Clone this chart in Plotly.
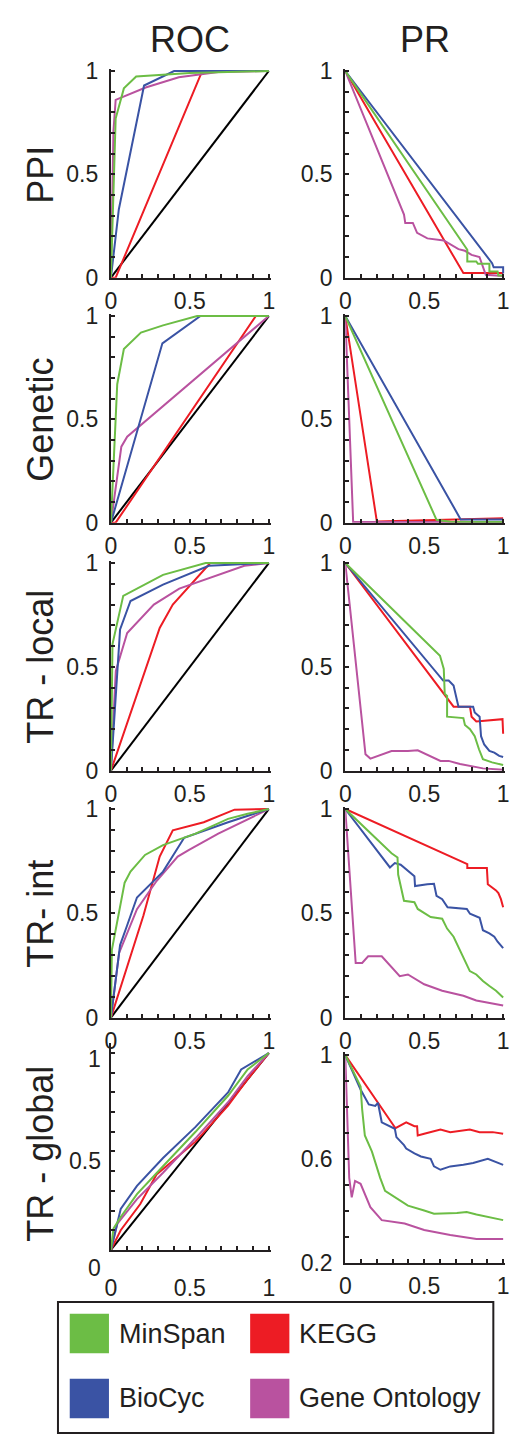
import plotly.graph_objects as go

W, H = 514, 1441
FONT = "Liberation Sans, Arial, Helvetica, sans-serif"
INK = "#231f20"

METHODS = ["KEGG", "Gene Ontology", "BioCyc", "MinSpan"]
COLORS = {"MinSpan": "#6cbd45", "BioCyc": "#3a53a4", "KEGG": "#ed1c24", "Gene Ontology": "#b9529f"}
ROW_LABELS = ["PPI", "Genetic", "TR - local", "TR- int", "TR - global"]
COL_TITLES = ["ROC", "PR"]

# ---------------- ROC curves (FPR, TPR) ----------------
roc_ppi = {
    "MinSpan": ([0, 0.03, 0.082, 0.16, 0.5, 1], [0, 0.77, 0.916, 0.973, 0.99, 1]),
    "BioCyc": ([0, 0.05, 0.21, 0.40, 1], [0, 0.33, 0.93, 1.0, 1]),
    "KEGG": ([0, 0.03, 0.57, 0.6, 1], [0, 0.0, 0.985, 1.0, 1]),
    "Gene Ontology": ([0, 0.016, 0.03, 0.22, 0.43, 0.68, 1], [0, 0.71, 0.86, 0.92, 0.97, 0.995, 1]),
}
roc_genetic = {
    "MinSpan": ([0, 0.04, 0.082, 0.19, 0.33, 0.546, 1], [0, 0.67, 0.84, 0.92, 0.955, 1, 1]),
    "BioCyc": ([0, 0.326, 0.567, 1], [0, 0.868, 1, 1]),
    "KEGG": ([0, 0.03, 0.918, 1], [0, 0.0, 1, 1]),
    "Gene Ontology": ([0, 0.066, 0.103, 1], [0, 0.368, 0.416, 1]),
}
roc_trlocal = {
    "MinSpan": ([0, 0.01, 0.078, 0.33, 0.6, 1], [0, 0.61, 0.842, 0.943, 1, 1]),
    "BioCyc": ([0, 0.058, 0.124, 0.33, 0.62, 1], [0, 0.68, 0.817, 0.896, 0.987, 1]),
    "KEGG": ([0, 0.309, 0.392, 0.629, 1], [0, 0.687, 0.80, 1, 1]),
    "Gene Ontology": ([0, 0.031, 0.103, 0.272, 0.433, 0.845, 1], [0, 0.48, 0.663, 0.80, 0.877, 0.987, 1]),
}
roc_trint = {
    "MinSpan": ([0, 0.006, 0.087, 0.124, 0.216, 0.33, 0.536, 0.742, 0.866, 1],
                [0, 0.325, 0.647, 0.70, 0.78, 0.827, 0.882, 0.953, 0.977, 1]),
    "BioCyc": ([0, 0.058, 0.103, 0.165, 0.33, 0.464, 0.742, 1], [0, 0.348, 0.443, 0.576, 0.70, 0.862, 0.937, 1]),
    "KEGG": ([0, 0.206, 0.309, 0.392, 0.588, 0.783, 1], [0, 0.49, 0.772, 0.898, 0.937, 0.997, 1]),
    "Gene Ontology": ([0, 0.052, 0.165, 0.289, 0.423, 0.495, 0.68, 1], [0, 0.31, 0.52, 0.655, 0.772, 0.804, 0.882, 1]),
}
roc_trglobal = {
    "MinSpan": ([0, 0.016, 0.062, 0.165, 0.33, 0.536, 0.742, 0.866, 1], [0, 0.108, 0.167, 0.283, 0.425, 0.60, 0.783, 0.917, 1]),
    "BioCyc": ([0, 0.02, 0.062, 0.165, 0.33, 0.536, 0.742, 0.825, 1], [0, 0.067, 0.208, 0.325, 0.467, 0.625, 0.80, 0.917, 1]),
    "KEGG": ([0, 0.062, 0.186, 0.289, 0.536, 0.742, 0.866, 1], [0, 0.1, 0.233, 0.383, 0.55, 0.733, 0.867, 1]),
    "Gene Ontology": ([0, 0.041, 0.165, 0.33, 0.536, 0.742, 0.866, 1], [0, 0.133, 0.258, 0.392, 0.567, 0.75, 0.883, 1]),
}

# ---------------- PR curves (recall, precision) ----------------
pr_ppi = {
    "MinSpan": ([0, 0.773, 0.773, 0.83, 0.84, 0.913, 0.913, 0.965, 0.97, 1],
                [1, 0.135, 0.078, 0.078, 0.067, 0.067, 0.03, 0.03, 0.01, 0.01]),
    "BioCyc": ([0, 0.93, 0.94, 1.0, 1.0], [1, 0.07, 0.05, 0.05, 0.02]),
    "KEGG": ([0, 0.748, 1.0], [1, 0.022, 0.022]),
    "Gene Ontology": ([0, 0.372, 0.38, 0.428, 0.455, 0.52, 0.624, 0.665, 0.717, 0.758, 0.8, 0.85, 0.87, 0.89, 1],
                      [1, 0.305, 0.265, 0.265, 0.217, 0.19, 0.18, 0.16, 0.138, 0.13, 0.11, 0.1, 0.06, 0.014, 0.008]),
}
pr_genetic = {
    "MinSpan": ([0, 0.578, 0.665, 1], [1, 0.014, 0.004, 0.003]),
    "BioCyc": ([0, 0.731, 1], [1, 0.016, 0.016]),
    "KEGG": ([0, 0.2, 1], [1, 0.006, 0.022]),
    "Gene Ontology": ([0, 0.05, 1], [1, 0.003, 0.003]),
}
pr_trlocal = {
    "MinSpan": ([0, 0.6, 0.624, 0.63, 0.645, 0.645, 0.748, 0.758, 0.79, 0.82, 0.847, 0.872, 0.93, 1],
                [1, 0.553, 0.49, 0.37, 0.36, 0.26, 0.253, 0.22, 0.2, 0.166, 0.103, 0.055, 0.04, 0.027]),
    "BioCyc": ([0, 0.62, 0.655, 0.686, 0.717, 0.81, 0.82, 0.851, 0.86, 0.88, 0.913, 0.944, 0.975, 1],
               [1, 0.434, 0.434, 0.41, 0.308, 0.308, 0.28, 0.26, 0.166, 0.126, 0.095, 0.087, 0.071, 0.066]),
    "KEGG": ([0, 0.686, 0.79, 0.8, 0.83, 0.996, 1.0], [1, 0.308, 0.308, 0.26, 0.237, 0.248, 0.178]),
    "Gene Ontology": ([0, 0.128, 0.159, 0.293, 0.397, 0.459, 0.603, 0.655, 0.727, 0.872, 1],
                      [1, 0.079, 0.058, 0.095, 0.095, 0.098, 0.047, 0.047, 0.032, 0.011, 0.005]),
}
pr_trint = {
    "MinSpan": ([0, 0.293, 0.331, 0.335, 0.372, 0.438, 0.459, 0.52, 0.541, 0.614, 0.645, 0.686, 0.727, 0.758, 0.789, 0.83, 0.872, 0.913, 0.955, 1],
                [1, 0.788, 0.768, 0.686, 0.56, 0.553, 0.521, 0.49, 0.482, 0.474, 0.427, 0.388, 0.325, 0.278, 0.223, 0.207, 0.176, 0.152, 0.129, 0.097]),
    "BioCyc": ([0, 0.283, 0.314, 0.351, 0.438, 0.442, 0.52, 0.562, 0.578, 0.614, 0.648, 0.77, 0.79, 0.851, 0.872, 0.913, 0.944, 0.965, 1],
               [1, 0.72, 0.741, 0.733, 0.678, 0.631, 0.639, 0.642, 0.584, 0.568, 0.529, 0.521, 0.498, 0.479, 0.419, 0.404, 0.388, 0.364, 0.333]),
    "KEGG": ([0, 0.773, 0.773, 0.897, 0.903, 0.934, 0.955, 0.97, 0.986, 1],
             [1, 0.736, 0.717, 0.717, 0.639, 0.623, 0.61, 0.597, 0.568, 0.529]),
    "Gene Ontology": ([0, 0.066, 0.107, 0.145, 0.231, 0.345, 0.397, 0.5, 0.614, 0.748, 0.83, 1],
                      [1, 0.262, 0.262, 0.294, 0.294, 0.199, 0.207, 0.16, 0.129, 0.105, 0.082, 0.058]),
}
pr_trglobal = {
    "MinSpan": ([0, 0.097, 0.107, 0.124, 0.169, 0.221, 0.252, 0.314, 0.397, 0.5, 0.562, 0.707, 0.769, 0.831, 1],
                [1, 0.879, 0.791, 0.69, 0.628, 0.527, 0.477, 0.452, 0.42, 0.401, 0.389, 0.391, 0.395, 0.386, 0.364]),
    "BioCyc": ([0, 0.097, 0.149, 0.19, 0.207, 0.231, 0.314, 0.324, 0.372, 0.386, 0.438, 0.479, 0.541, 0.562, 0.603, 0.665, 0.748, 0.81, 0.903, 1],
               [1, 0.867, 0.81, 0.804, 0.816, 0.741, 0.716, 0.684, 0.653, 0.64, 0.621, 0.609, 0.6, 0.571, 0.558, 0.571, 0.577, 0.584, 0.6, 0.577]),
    "KEGG": ([0, 0.318, 0.386, 0.407, 0.438, 0.455, 0.459, 0.5, 0.603, 0.665, 0.789, 0.851, 0.934, 1],
             [1, 0.718, 0.741, 0.735, 0.726, 0.726, 0.69, 0.697, 0.713, 0.703, 0.713, 0.703, 0.703, 0.697]),
    "Gene Ontology": ([0, 0.025, 0.041, 0.062, 0.097, 0.159, 0.231, 0.376, 0.5, 0.665, 0.831, 1],
                      [1, 0.527, 0.452, 0.515, 0.504, 0.414, 0.364, 0.351, 0.326, 0.307, 0.291, 0.291]),
}

ROC_PANELS = [roc_ppi, roc_genetic, roc_trlocal, roc_trint, roc_trglobal]
PR_PANELS = [pr_ppi, pr_genetic, pr_trlocal, pr_trint, pr_trglobal]

# ---------------- layout geometry (pixels) ----------------
ROC_X = (107, 268)   # px of value 0 and value 1
PR_X = (346, 507)
ROW_Y = [(272, 62), (521, 311), (773, 562), (1024, 812), (1260, 1060)]  # px of value 0 and value 1
PR5_Y = (1273, 1062)  # px of value 0.2 and value 1.0


def px(x):
    return x / W


def py(y):
    return 1 - y / H


fig = go.Figure()

ticks01 = [round(i * 0.1, 1) for i in range(11)]
text01 = ["0" if v == 0 else "0.5" if v == 0.5 else "1" if v == 1 else "" for v in ticks01]
ticks_pr5 = [round(0.2 + i * 0.1, 1) for i in range(9)]
text_pr5 = ["0.2" if v == 0.2 else "0.6" if v == 0.6 else "1" if v == 1.0 else "" for v in ticks_pr5]


def axis_style(**kw):
    d = dict(showline=True, linecolor=INK, linewidth=2, ticks="inside", ticklen=4, tickwidth=1.5,
             tickcolor=INK, showgrid=False, zeroline=False, fixedrange=True,
             tickfont=dict(family=FONT, size=23, color=INK))
    d.update(kw)
    return d


layout_axes = {}
ax_index = 0
for r in range(5):
    for c in range(2):
        ax_index += 1
        xa = "x" if ax_index == 1 else f"x{ax_index}"
        ya = "y" if ax_index == 1 else f"y{ax_index}"
        xname = "xaxis" if ax_index == 1 else f"xaxis{ax_index}"
        yname = "yaxis" if ax_index == 1 else f"yaxis{ax_index}"
        xp = ROC_X if c == 0 else PR_X
        xr = [0, 1.012]
        xdom = [px(xp[0]), px(xp[0] + xr[1] * (xp[1] - xp[0]))]
        x_standoff = 2
        if c == 1 and r == 4:
            y0, y1 = PR5_Y
            lo = 0.2
            yr = [0.2, 1.012]
            ydom = [py(y0), py(y0 - (yr[1] - lo) / 0.8 * (y0 - y1))]
            ytv, ytt = ticks_pr5, text_pr5
        else:
            y0, y1 = ROW_Y[r]
            top = 1.05 if r == 4 else 1.012
            yr = [0, top]
            ydom = [py(y0), py(y0 - top * (y0 - y1))]
            ytv, ytt = ticks01, text01
        if c == 0 and r == 4:
            ytt = [""] * len(ytv)
            x_standoff = 17
        layout_axes[xname] = axis_style(domain=xdom, range=xr, anchor=ya, tickvals=ticks01, ticktext=text01,
                                        ticklabelstandoff=x_standoff)
        layout_axes[yname] = axis_style(domain=ydom, range=yr, anchor=xa, tickvals=ytv, ticktext=ytt,
                                        ticklabelstandoff=6)
        panel = ROC_PANELS[r] if c == 0 else PR_PANELS[r]
        if c == 0:
            fig.add_trace(go.Scatter(x=[0, 1], y=[0, 1], mode="lines", xaxis=xa, yaxis=ya,
                                     line=dict(color="#000000", width=2), showlegend=False, hoverinfo="skip"))
        for m in METHODS:
            xs, ys = panel[m]
            fig.add_trace(go.Scatter(x=xs, y=ys, mode="lines", xaxis=xa, yaxis=ya, name=m,
                                     line=dict(color=COLORS[m], width=2), showlegend=False))

annotations = []
# column titles
annotations.append(dict(text="ROC", x=px(188), y=py(30), xref="paper", yref="paper", showarrow=False,
                        xanchor="center", yanchor="middle", font=dict(family=FONT, size=36, color=INK)))
annotations.append(dict(text="PR", x=px(427), y=py(30), xref="paper", yref="paper", showarrow=False,
                        xanchor="center", yanchor="middle", font=dict(family=FONT, size=36, color=INK)))
# row labels
row_centers = [167, 416, 667, 918, 1162]
for lab, cy in zip(ROW_LABELS, row_centers):
    annotations.append(dict(text=lab, x=px(35), y=py(cy), xref="paper", yref="paper", showarrow=False,
                            textangle=-90, xanchor="center", yanchor="middle",
                            font=dict(family=FONT, size=36, color=INK)))
# y tick labels of the last ROC panel (placed as in the original figure)
for t, yy in [("1", 1066), ("0.5", 1170), ("0", 1278)]:
    annotations.append(dict(text=t, x=px(99), y=py(yy), xref="paper", yref="paper", showarrow=False,
                            xanchor="right", yanchor="middle", font=dict(family=FONT, size=23, color=INK)))

# legend (custom box)
shapes = [dict(type="rect", xref="paper", yref="paper", x0=px(53), x1=px(497), y0=py(1446), y1=py(1313),
               line=dict(color=INK, width=2), fillcolor="rgba(0,0,0,0)")]
legend_items = [("MinSpan", 65, 1325), ("BioCyc", 65, 1391), ("KEGG", 249, 1325), ("Gene Ontology", 249, 1391)]
for name, lx, ly in legend_items:
    shapes.append(dict(type="rect", xref="paper", yref="paper", x0=px(lx), x1=px(lx + 40), y0=py(ly + 40),
                       y1=py(ly), line=dict(width=0), fillcolor=COLORS[name]))
    annotations.append(dict(text=name, x=px(lx + 48), y=py(ly + 20), xref="paper", yref="paper", showarrow=False,
                            xanchor="left", yanchor="middle", font=dict(family=FONT, size=27, color=INK)))

fig.update_layout(width=W, height=H, margin=dict(l=0, r=0, t=0, b=0), paper_bgcolor="white",
                  plot_bgcolor="white", showlegend=False, annotations=annotations, shapes=shapes,
                  **layout_axes)

fig.write_html("out.html", config={"displayModeBar": False})
